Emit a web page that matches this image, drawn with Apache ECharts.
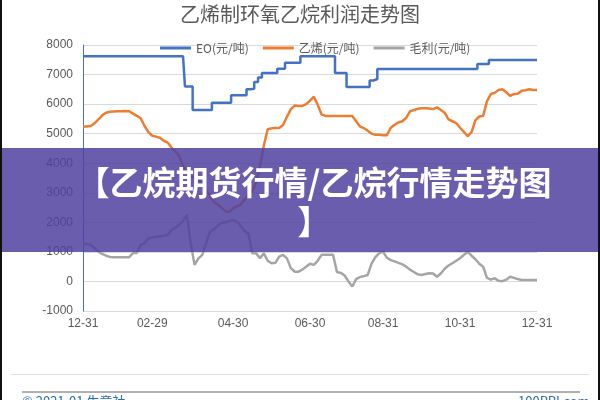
<!DOCTYPE html>
<html><head><meta charset="utf-8">
<script src="https://cdn.jsdelivr.net/npm/echarts@6/dist/echarts.min.js"></script>
<style>html,body{margin:0;padding:0;background:#fff}#c{width:600px;height:400px}</style>
</head><body><div id="c"></div>
<script>
const titleText = '乙烯制环氧乙烷利润走势图';
const bannerLine1 = '【乙烷期货行情/乙烷行情走势图';
const bannerLine2 = '】';
const seriesNames = ['EO(元/吨)', '乙烯(元/吨)', '毛利(元/吨)'];
const tickLabels = ['12-31','02-29','04-30','06-30','08-31','10-31','12-31'];
const dates = [
 '12-31','01-03','01-06','01-10','01-13','01-16','01-20','01-23','01-26','01-30','02-02','02-05','02-09','02-12','02-15','02-19','02-22','02-25','02-29',
 '03-03','03-06','03-08','03-11','03-14','03-17','03-20','03-23','03-26','03-29','04-01','04-03','04-06','04-09','04-12','04-15','04-18','04-21','04-24','04-27','04-30',
 '05-03','05-06','05-09','05-12','05-15','05-18','05-21','05-24','05-27','05-30','06-02','06-05','06-08','06-11','06-14','06-17','06-20','06-23','06-26','06-30',
 '07-03','07-06','07-10','07-13','07-16','07-19','07-23','07-26','07-29','08-01','08-05','08-08','08-11','08-14','08-18','08-21','08-24','08-27','08-31',
 '09-03','09-06','09-09','09-12','09-15','09-18','09-21','09-24','09-27','09-30','10-03','10-06','10-09','10-12','10-15','10-18','10-21','10-24','10-27','10-31',
 '11-03','11-06','11-09','11-12','11-15','11-18','11-21','11-24','11-27','11-30','12-03','12-06','12-09','12-12','12-15','12-18','12-21','12-24','12-27','12-31'
];
const eo = [
 7620,7620,7620,7620,7620,7620,7620,7620,7620,7620,
 7620,7620,7620,7620,7620,7620,7620,7620,7620,7620,
 7620,7620,7620,7620,7620,7620,7620,6600,6600,5800,
 5800,5800,5800,5800,6050,6050,6050,6050,6050,6300,
 6300,6300,6300,6500,6520,6750,6900,7050,7050,7050,
 7050,7200,7200,7400,7400,7400,7400,7620,7620,7620,
 7620,7620,7620,7620,7620,7620,7050,7050,7050,6580,
 6580,6580,6580,6580,6580,6800,6850,7190,7190,7190,
 7190,7190,7190,7190,7190,7190,7190,7190,7190,7190,
 7190,7190,7190,7190,7190,7190,7190,7190,7190,7190,
 7190,7190,7190,7360,7360,7360,7490,7490,7490,7490,
 7490,7490,7490,7490,7490,7490,7490,7490,7490
];
const ethylene = [
 5240,5240,5260,5350,5480,5620,5710,5740,5750,5760,
 5760,5770,5760,5680,5600,5520,5260,5050,4930,4900,
 4860,4760,4700,4530,4400,4250,3900,3650,3550,3520,
 3490,3250,3080,2900,2700,2600,2500,2380,2350,2470,
 2540,2600,2780,2950,3060,3350,3900,4600,5150,5180,
 5190,5190,5290,5570,5820,5950,5940,5940,6000,6120,
 6250,5980,5650,5600,5600,5600,5600,5600,5600,5600,
 5600,5420,5240,5190,5100,5000,4960,4960,4950,4950,
 5200,5300,5380,5420,5530,5760,5800,5840,5860,5860,
 5850,5830,5890,5800,5710,5480,5420,5360,5200,5060,
 4920,5050,5460,5580,5600,6100,6340,6380,6480,6500,
 6400,6280,6340,6350,6450,6470,6500,6480,6480
];
const grossMargin = [
 1290,1270,1240,1130,1010,930,870,830,820,820,
 820,820,820,960,960,1240,1290,1460,1490,1510,
 1530,1550,1570,1740,1820,1920,2050,2250,1290,560,
 780,900,1300,1680,1760,1880,1980,2000,2050,2080,
 2020,1880,1700,1620,955,950,790,950,700,615,
 630,840,900,780,460,330,330,400,500,600,
 560,700,900,900,900,900,320,290,200,0,
 -170,80,150,180,220,600,820,960,1010,800,
 720,680,630,580,500,400,320,240,220,250,
 280,270,160,270,430,540,615,700,785,900,
 1000,870,750,600,500,120,60,110,20,10,
 60,160,120,80,50,50,50,50,50
];
const colors = ['#4472C4', '#ED7D31', '#A5A5A5'];

const chart = echarts.init(document.getElementById('c'), null, {renderer: 'canvas'});
const lbl = {color: '#595959', fontSize: 12, fontFamily: 'Liberation Sans'};
chart.setOption({
  animation: false,
  backgroundColor: '#fff',
  color: colors,
  title: {text: titleText, left: 'center', top: -1,
    textStyle: {color: '#595959', fontSize: 20, fontWeight: 'normal', fontFamily: 'Noto Sans CJK SC'}},
  legend: {left: 155, top: 37, icon: 'rect', itemWidth: 31, itemHeight: 3, itemGap: 14,
    textStyle: {color: '#595959', fontSize: 12, fontFamily: 'Noto Sans CJK SC'},
    data: seriesNames},
  grid: {left: 83, right: 63, top: 45, bottom: 89},
  xAxis: {type: 'category', data: dates, boundaryGap: false,
    axisLine: {show: false}, axisTick: {show: false},
    axisLabel: Object.assign({margin: 7, interval: (i, v) => tickLabels.indexOf(v) >= 0, showMaxLabel: true}, lbl)},
  yAxis: {type: 'value', min: -1000, max: 8000, interval: 1000,
    axisLine: {show: true, lineStyle: {color: '#4472C4', width: 1}},
    axisTick: {show: false},
    splitLine: {lineStyle: {color: '#D9D9D9'}},
    axisLabel: Object.assign({margin: 10, formatter: v => String(v)}, lbl)},
  series: [
    {name: seriesNames[0], type: 'line', data: eo, step: 'middle', showSymbol: false, lineStyle: {width: 2.5, color: colors[0]}},
    {name: seriesNames[1], type: 'line', data: ethylene, showSymbol: false, lineStyle: {width: 2.5, color: colors[1]}},
    {name: seriesNames[2], type: 'line', data: grossMargin, showSymbol: false, lineStyle: {width: 2.5, color: colors[2]}}
  ],
  graphic: [
    {type: 'rect', z: 100, shape: {x: 0, y: 148, width: 600, height: 104}, style: {fill: 'rgba(80,65,160,0.85)'}},
    {type: 'text', z: 101, x: 314, y: 182, style: {text: bannerLine1, fill: '#fff', font: 'bold 33px "Noto Sans CJK SC"', textAlign: 'center', textVerticalAlign: 'middle'}},
    {type: 'text', z: 101, x: 314, y: 221, style: {text: bannerLine2, fill: '#fff', font: 'bold 33px "Noto Sans CJK SC"', textAlign: 'center', textVerticalAlign: 'middle'}},
    {type: 'line', z: 100, shape: {x1: 11, y1: 374.5, x2: 589, y2: 374.5}, style: {stroke: '#E0E0E0', lineWidth: 1}},
    {type: 'line', z: 100, shape: {x1: 22, y1: 392, x2: 580, y2: 392}, style: {stroke: '#B0B0B0', lineWidth: 2}},
    {type: 'text', z: 100, x: 22, y: 395, style: {text: '© 2021-01 生意社', fill: '#2A6BB0', font: '13px "Noto Sans CJK SC"', textVerticalAlign: 'top'}},
    {type: 'text', z: 100, x: 518, y: 395, style: {text: '100PPI.com', fill: '#2A6BB0', font: '13px "Noto Sans CJK SC"', textVerticalAlign: 'top'}},
    {type: 'rect', z: 102, shape: {x: 0, y: 0, width: 2, height: 400}, style: {fill: '#111'}},
    {type: 'rect', z: 102, shape: {x: 598, y: 0, width: 2, height: 400}, style: {fill: '#111'}}
  ]
});
</script></body></html>
